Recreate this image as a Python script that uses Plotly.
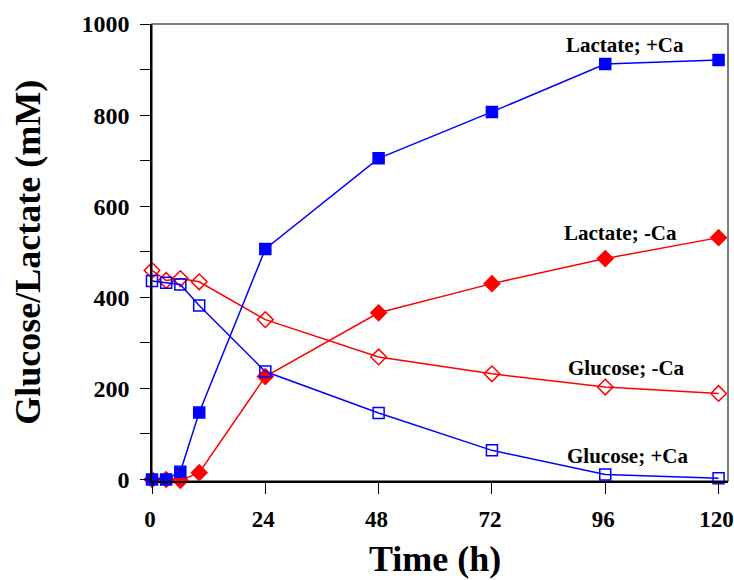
import plotly.graph_objects as go

time_h = [0, 3, 6, 10, 24, 48, 72, 96, 120]
lactate_ca = [0, 0, 17, 147, 506, 705, 807, 912, 921]
glucose_ca = [436, 432, 428, 382, 237, 146, 64, 11, 3]
lactate_noca = [0, 0, -2, 15, 226, 366, 430, 485, 531]
glucose_noca = [459, 437, 441, 434, 351, 269, 232, 203, 189]

labels = ["Lactate; +Ca", "Lactate; -Ca", "Glucose; -Ca", "Glucose; +Ca"]
label_x = [100.2, 99.2, 100.4, 100.8]
label_y = [954, 542, 245, 51]

x_ticks = [0, 24, 48, 72, 96, 120]
x_ticktext = ["0", "24", "48", "72", "96", "120"]

BLUE = "#0000FF"
RED = "#FF0000"
FONT = "Liberation Serif"

fig = go.Figure()

def add(y, color, symbol, size, name):
    fig.add_trace(go.Scatter(
        x=time_h, y=y, mode="lines+markers", name=name,
        line=dict(color=color, width=1.5),
        marker=dict(symbol=symbol, size=size, color=color,
                    line=dict(color=color, width=1.5)),
        cliponaxis=False,
    ))

add(glucose_noca, RED, "diamond-open", 12, "Glucose; -Ca")
add(lactate_noca, RED, "diamond", 12, "Lactate; -Ca")
add(glucose_ca, BLUE, "square-open", 11, "Glucose; +Ca")
add(lactate_ca, BLUE, "square", 11, "Lactate; +Ca")

annotations = []
for t, lx, ly in zip(labels, label_x, label_y):
    annotations.append(dict(x=lx, y=ly, xref="x", yref="y", text=t, showarrow=False,
                            xanchor="center", yanchor="middle",
                            font=dict(family=FONT, size=21, color="black", weight="bold")))
annotations.append(dict(x=0.491, y=-0.17, xref="paper", yref="paper", text="Time (h)",
                        showarrow=False, xanchor="center", yanchor="middle",
                        font=dict(family=FONT, size=36, color="black", weight="bold")))
annotations.append(dict(x=-0.2153, y=0.5016, xref="paper", yref="paper",
                        text="Glucose/Lactate (mM)", textangle=-90,
                        showarrow=False, xanchor="center", yanchor="middle",
                        font=dict(family=FONT, size=36, color="black", weight="bold")))

fig.update_layout(
    width=734, height=580,
    margin=dict(l=152, r=6, t=24, b=98.5, autoexpand=False),
    paper_bgcolor="white", plot_bgcolor="white",
    showlegend=False,
    annotations=annotations,
    shapes=[dict(type="rect", xref="paper", yref="paper", x0=0, y0=0, x1=1, y1=1,
                 line=dict(color="#555555", width=1.5), layer="below")],
)
fig.update_xaxes(
    range=[0, 122], tickvals=x_ticks, ticktext=x_ticktext,
    ticks="outside", ticklen=11, tickwidth=1.2, tickcolor="black",
    showline=True, linecolor="black", linewidth=1.5, showgrid=False, zeroline=False,
    tickfont=dict(family=FONT, size=23, color="black", weight="bold"),
    ticklabelstandoff=6, ticklabelshift=-2, ticklabeloverflow="allow", automargin=False,
)
fig.update_yaxes(
    range=[-3.3, 1000], tick0=0, dtick=200,
    ticks="outside", ticklen=10, tickwidth=1.2, tickcolor="black",
    minor=dict(dtick=100, ticks="outside", ticklen=10, tickwidth=1.2, tickcolor="black", showgrid=False),
    showline=True, linecolor="black", linewidth=1.5, showgrid=False, zeroline=False,
    tickfont=dict(family=FONT, size=24, color="black", weight="bold"),
    ticklabelstandoff=6, ticklabeloverflow="allow", automargin=False,
)

fig.write_html("out.html")
